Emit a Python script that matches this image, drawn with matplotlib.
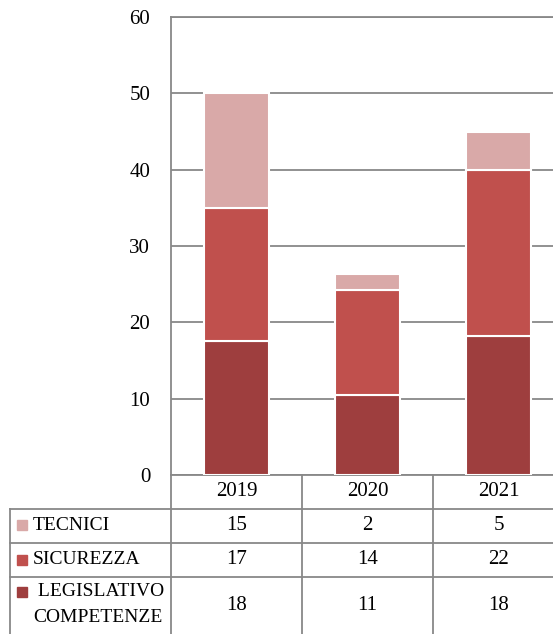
import matplotlib.pyplot as plt
import matplotlib.transforms as mtransforms
import numpy as np

years = ["2019", "2020", "2021"]
# bar heights
legislativo = [17.5, 10.5, 18.2]
sicurezza = [17.5, 13.8, 21.8]
tecnici = [15, 2, 5]
# values printed in the data table
tab_legislativo = ["18", "11", "18"]
tab_sicurezza = ["17", "14", "22"]
tab_tecnici = ["15", "2", "5"]

colors = ["#9E3E3E", "#C0504D", "#D9A9A8"]
grid_c = "#888888"

plt.rcParams['font.family'] = ['Liberation Serif', 'DejaVu Serif']

W, H = 553, 634
fig = plt.figure(figsize=(W / 100, H / 100), dpi=100)
ax = fig.add_axes([171 / W, (H - 475) / H, (564 - 171) / W, (475 - 17) / H])

x = np.arange(len(years))
bottom = np.zeros(len(years))
for vals, c in zip([legislativo, sicurezza, tecnici], colors):
    ax.bar(x, vals, 0.5, bottom=bottom, color=c, edgecolor="white", linewidth=1.5, zorder=3)
    bottom += np.array(vals)

ax.set_xlim(-0.5, 2.5)
ax.set_ylim(0, 60)
ax.set_yticks(range(0, 61, 10))
ax.set_xticks([])
ax.yaxis.grid(True, color=grid_c, linewidth=1.3)
ax.tick_params(axis="y", length=0, pad=15, labelsize=15)
for s in ax.spines.values():
    s.set_color(grid_c)
    s.set_linewidth(1.3)

# data table below the plot
tr = mtransforms.blended_transform_factory(ax.transData, fig.transFigure)
fy = lambda py: 1 - py / H
left = -0.5 - 161 / 131
lkw = dict(color=grid_c, linewidth=1.3, transform=tr, clip_on=False)

for i in range(len(years) + 1):
    ax.plot([i - 0.5, i - 0.5], [fy(475), fy(H)], **lkw)
ax.plot([left, left], [fy(509), fy(H)], **lkw)
for py in [509, 543, 577]:
    ax.plot([left, 2.5], [fy(py), fy(py)], **lkw)

for i, yr in enumerate(years):
    ax.text(i, fy(492), yr, ha="center", va="center", fontsize=15, transform=tr)

rows = [(tab_tecnici, ["TECNICI"], colors[2], 525, [525]),
        (tab_sicurezza, ["SICUREZZA"], colors[1], 560, [560]),
        (tab_legislativo, [" LEGISLATIVO", "COMPETENZE"], colors[0], 606, [592, 618])]
sq_x = left + 12 / 131
txt_x = left + 23 / 131
for vals, labs, c, py, lys in rows:
    for i, v in enumerate(vals):
        ax.text(i, fy(py), v, ha="center", va="center", fontsize=15, transform=tr)
    ax.plot([sq_x], [fy(lys[0])], marker="s", markersize=7, color=c,
            transform=tr, clip_on=False, linestyle="none")
    for lab, ly in zip(labs, lys):
        ax.text(txt_x, fy(ly), lab, ha="left", va="center", fontsize=14, transform=tr)

fig.savefig("out.png", dpi=100)
